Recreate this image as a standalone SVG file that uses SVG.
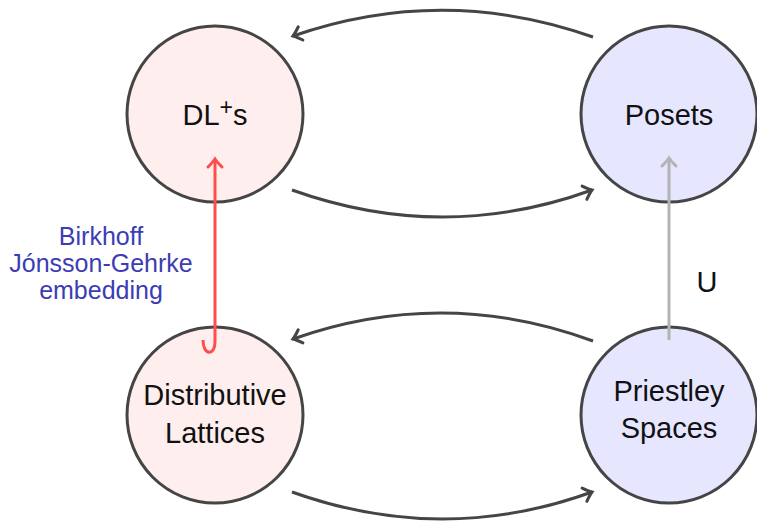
<svg xmlns="http://www.w3.org/2000/svg" width="757" height="523" viewBox="0 0 757 523">
  <style>
    .node { stroke: #454545; stroke-width: 3; }
    .pink { fill: #ffeeee; }
    .lav { fill: #e6e6ff; }
    .lbl { font-family: "Liberation Sans", Arial, sans-serif; font-size: 29px; fill: #111; text-anchor: middle; }
    .edge { fill: none; stroke: #454545; stroke-width: 3; }
    .note { font-family: "Liberation Sans", Arial, sans-serif; font-size: 25px; fill: #3c3cb4; text-anchor: middle; }
  </style>
  <defs>
    <marker id="head" markerUnits="userSpaceOnUse" markerWidth="20" markerHeight="20" refX="10" refY="10" orient="auto" overflow="visible">
      <path d="M 2 3 Q 7 8 10 10 Q 7 12 2 17" fill="none" stroke="#454545" stroke-width="3" stroke-linecap="round"/>
    </marker>
    <marker id="headRed" markerUnits="userSpaceOnUse" markerWidth="20" markerHeight="20" refX="10" refY="10" orient="auto" overflow="visible">
      <path d="M 2 3 Q 7 8 10 10 Q 7 12 2 17" fill="none" stroke="#ff4d4d" stroke-width="3" stroke-linecap="round"/>
    </marker>
    <marker id="headGray" markerUnits="userSpaceOnUse" markerWidth="20" markerHeight="20" refX="10" refY="10" orient="auto" overflow="visible">
      <path d="M 2 3 Q 7 8 10 10 Q 7 12 2 17" fill="none" stroke="#b3b3b3" stroke-width="3" stroke-linecap="round"/>
    </marker>
  </defs>

  <g id="dlplus">
    <circle class="node pink" cx="215" cy="114" r="88"/>
    <text class="lbl" x="215" y="125">DL<tspan dy="-10" font-size="23">+</tspan><tspan dy="10">s</tspan></text>
  </g>
  <g id="posets">
    <circle class="node lav" cx="669" cy="114" r="88"/>
    <text class="lbl" x="669" y="125">Posets</text>
  </g>
  <g id="distlat">
    <circle class="node pink" cx="215" cy="415" r="88"/>
    <text class="lbl" x="215" y="405">Distributive</text>
    <text class="lbl" x="215" y="443">Lattices</text>
  </g>
  <g id="priestley">
    <circle class="node lav" cx="669" cy="415" r="88"/>
    <text class="lbl" x="669" y="401">Priestley</text>
    <text class="lbl" x="669" y="438">Spaces</text>
  </g>

  <g id="connectors">
    <path class="edge" d="M 593 37 Q 443 -16 293 36" marker-end="url(#head)"/>
    <path class="edge" d="M 292 190 Q 443 244 592 190" marker-end="url(#head)"/>
    <path class="edge" d="M 593 341 Q 443 286 293 339" marker-end="url(#head)"/>
    <path class="edge" d="M 292 492 Q 443 546 592 492" marker-end="url(#head)"/>
    <path d="M 203 340 C 203 356 215 356 215 342 L 215 159" fill="none" stroke="#ff4d4d" stroke-width="3" marker-end="url(#headRed)"/>
    <path d="M 669 340 L 669 158" fill="none" stroke="#b3b3b3" stroke-width="3" marker-end="url(#headGray)"/>
    <text class="note" x="101" y="245">Birkhoff</text>
    <text class="note" x="101" y="272">Jónsson-Gehrke</text>
    <text class="note" x="101" y="299">embedding</text>
    <text class="lbl" x="707" y="292">U</text>
  </g>
</svg>
